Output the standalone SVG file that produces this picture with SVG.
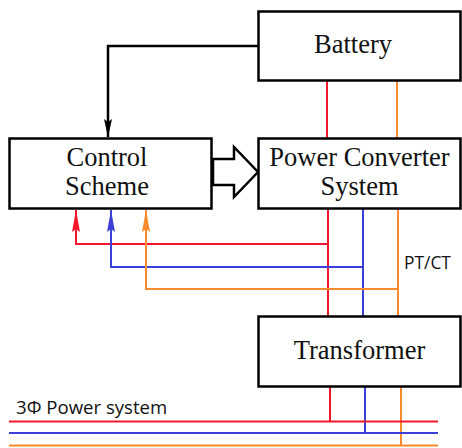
<svg xmlns="http://www.w3.org/2000/svg" width="462" height="448" viewBox="0 0 462 448">
<style>
.box{fill:#fff;stroke:#000;stroke-width:2.5}
.t{font-family:"Liberation Serif","Times New Roman",serif;font-size:26.5px;fill:#111;text-anchor:middle}
.s{font-family:"Open Sans","Noto Sans",sans-serif;font-size:17.4px;fill:#111}
.r{stroke:#f0182a;fill:none;stroke-width:2}
.b{stroke:#3c40d6;fill:none;stroke-width:2}
.o{stroke:#fa8a2c;fill:none;stroke-width:2}
.k{stroke:#000;fill:none;stroke-width:2.5}
</style>
<defs>
<marker id="ak" markerUnits="userSpaceOnUse" viewBox="0 0 18 8" refX="18" refY="4" markerWidth="18" markerHeight="8" orient="auto"><path d="M0,0 L18,4 L0,8 L3,4 z" fill="#000"/></marker>
<marker id="ar" markerUnits="userSpaceOnUse" viewBox="0 0 22 8" refX="22" refY="4" markerWidth="22" markerHeight="8" orient="auto"><path d="M0,0 L22,4 L0,8 L3,4 z" fill="#f0182a"/></marker>
<marker id="ab" markerUnits="userSpaceOnUse" viewBox="0 0 22 8" refX="22" refY="4" markerWidth="22" markerHeight="8" orient="auto"><path d="M0,0 L22,4 L0,8 L3,4 z" fill="#3c40d6"/></marker>
<marker id="ao" markerUnits="userSpaceOnUse" viewBox="0 0 22 8" refX="22" refY="4" markerWidth="22" markerHeight="8" orient="auto"><path d="M0,0 L22,4 L0,8 L3,4 z" fill="#fa8a2c"/></marker>
</defs>
<g id="connectors">
<path class="k" d="M258,46 H108 V137" marker-end="url(#ak)"/>
<polygon points="213,159 234,159 234,147 258,172 234,197 234,185 213,185" fill="#fff" stroke="#000" stroke-width="2.5" stroke-linejoin="miter"/>
<path class="r" d="M327,81 V138"/>
<path class="o" d="M397,81 V138"/>
<path class="r" d="M328,209 V316"/>
<path class="b" d="M363,209 V316"/>
<path class="o" d="M398,209 V316"/>
<path class="r" d="M328,244 H76 V210" marker-end="url(#ar)"/>
<path class="b" d="M363,267 H111 V210" marker-end="url(#ab)"/>
<path class="o" d="M398,289 H146 V210" marker-end="url(#ao)"/>
<path class="r" d="M330,387 V421.5"/>
<path class="b" d="M365,387 V433"/>
<path class="o" d="M401,387 V446"/>
<path class="r" d="M9,421.5 H438" stroke-width="3"/>
<path class="b" d="M9,433 H438" stroke-width="3"/>
<path class="o" d="M9,445.5 H438" stroke-width="3"/>
</g>
<g id="battery"><rect class="box" x="258.5" y="11.5" width="202" height="69"/><text class="t" x="353" y="53">Battery</text></g>
<g id="control"><rect class="box" x="9.5" y="138.5" width="202" height="70"/><text class="t" x="107" y="166">Control</text><text class="t" x="107" y="195">Scheme</text></g>
<g id="pcs"><rect class="box" x="258.5" y="138.5" width="202" height="70"/><text class="t" x="359.5" y="166">Power Converter</text><text class="t" x="359.5" y="195">System</text></g>
<g id="transformer"><rect class="box" x="258.5" y="316.5" width="202" height="70"/><text class="t" x="359.5" y="359">Transformer</text></g>
<text class="s" x="404" y="269">PT/CT</text>
<text class="s" x="16" y="414" style="font-size:18.6px">3Φ Power system</text>
</svg>
